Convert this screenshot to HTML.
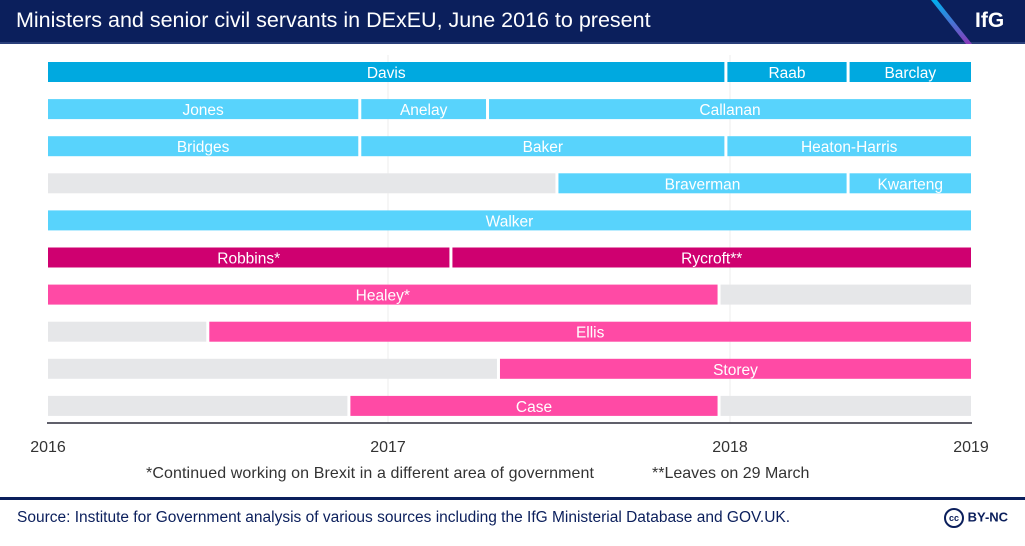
<!DOCTYPE html>
<html><head><meta charset="utf-8"><style>
body{margin:0;width:1025px;height:546px;background:#fff;font-family:"Liberation Sans",sans-serif;overflow:hidden;position:relative}
#hdr{position:absolute;left:0;top:0;width:1025px;height:44px;background:#0b1f5c;border-bottom:2px solid #2a3f7a;box-sizing:border-box}
#title{position:absolute;left:16px;top:8px;color:#fff;font-size:21.5px}
#logo{position:absolute;left:975px;top:9px;color:#fff;font-size:21px;font-weight:bold}
svg{position:absolute;left:0;top:0}
#rule{position:absolute;left:0;top:497px;width:1025px;height:3px;background:#0b1f5c}
#src{position:absolute;left:17px;top:509px;font-size:15.5px;color:#0b1f5c}
#cc{position:absolute;left:944px;top:508px;font-size:13px;font-weight:bold;color:#0b1f5c}
</style></head><body>
<div id="hdr">
<div id="title">Ministers and senior civil servants in DExEU, June 2016 to present</div>
<svg width="1025" height="44"><defs><linearGradient id="g" x1="0" y1="0" x2="0" y2="1"><stop offset="0" stop-color="#00b0f0"/><stop offset="1" stop-color="#8a3ab9"/></linearGradient></defs><polygon points="931,0 937,0 972,44 966,44" fill="url(#g)"/></svg>
<div id="logo">IfG</div>
</div>
<svg id="chart" width="1025" height="500"></svg>
<div id="rule"></div>
<div id="src">Source: Institute for Government analysis of various sources including the IfG Ministerial Database and GOV.UK.</div>
<div id="cc"><span style="display:inline-block;width:16px;height:16px;border:2px solid #0b1f5c;border-radius:50%;font-size:9px;text-align:center;line-height:16px;vertical-align:middle">cc</span> BY-NC</div>
<script>
const tickYears=[2016,2017,2018,2019];
const tickPx=[48,388,730,971];
const rowNames=["r1","r2","r3","r4","r5","r6","r7","r8","r9","r10"];
const segRow=[0,0,0,1,1,1,2,2,2,3,3,3,4,5,5,6,6,7,7,8,8,9,9,9];
const segStart=[2016,2017.988,2018.49,2016,2016.917,2017.291,2016,2016.917,2017.988,2016,2017.494,2018.49,2016,2016,2017.184,2016,2017.968,2016,2016.47,2016,2017.323,2016,2016.885,2017.968];
const segEnd=[2017.988,2018.49,2019,2016.917,2017.291,2019,2016.917,2017.988,2019,2017.494,2018.49,2019,2019,2017.184,2019,2017.968,2019,2016.47,2019,2017.323,2019,2016.885,2017.968,2019];
const segLabel=["Davis","Raab","Barclay","Jones","Anelay","Callanan","Bridges","Baker","Heaton-Harris","","Braverman","Kwarteng","Walker","Robbins*","Rycroft**","Healey*","","","Ellis","","Storey","","Case",""];
const segType=["d","d","d","l","l","l","l","l","l","g","l","l","l","m","m","p","g","g","p","g","p","g","p","g"];
const colors={d:"#00a9e0",l:"#58d3fc",m:"#cf0070",p:"#ff4aa5",g:"#e6e7e9"};
function x(v){for(let i=0;i<tickYears.length-1;i++){if(v<=tickYears[i+1]||i==tickYears.length-2){return tickPx[i]+(v-tickYears[i])/(tickYears[i+1]-tickYears[i])*(tickPx[i+1]-tickPx[i]);}}}
function y(r){return 72+r*37.1;}
const svg=document.getElementById('chart');const NS="http://www.w3.org/2000/svg";
function mk(t,a){const e=document.createElementNS(NS,t);for(const k in a)e.setAttribute(k,a[k]);svg.appendChild(e);return e;}
[2017,2018].forEach(v=>{const l=mk('line',{x1:x(v),x2:x(v),y1:55,y2:423,stroke:'#eeeeee','stroke-width':1});

});
for(let i=0;i<segRow.length;i++){
 const x0=x(segStart[i])+(segStart[i]>2016?1.5:0), x1=x(segEnd[i])-(segEnd[i]<2019?1.5:0);
 const r=mk('rect',{x:x0,y:y(segRow[i])-10,width:x1-x0,height:20,fill:colors[segType[i]]});
 
 
 if(segLabel[i]){const t=mk('text',{x:(x0+x1)/2,y:y(segRow[i])+6,'text-anchor':'middle',fill:'#fff','font-size':15.5});t.textContent=segLabel[i];
 
 }
}
const ax=mk('line',{x1:47,x2:972,y1:423,y2:423,stroke:'#2b2b3a','stroke-width':1.5});


tickYears.forEach((v,i)=>{const t=mk('text',{x:x(v),y:452,'text-anchor':'middle',fill:'#333','font-size':16});t.textContent=v;

});
const f1=mk('text',{x:146,y:478,fill:'#333','font-size':16,textLength:448});f1.textContent="*Continued working on Brexit in a different area of government";


const f2=mk('text',{x:652,y:478,fill:'#333','font-size':16});f2.textContent="**Leaves on 29 March";


</script>
</body></html>
